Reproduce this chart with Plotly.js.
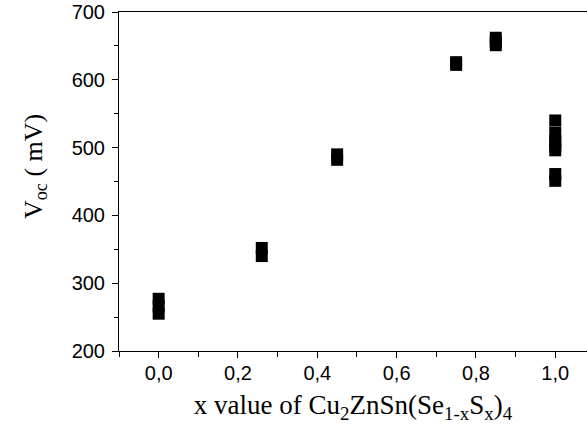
<!DOCTYPE html>
<html>
<head>
<meta charset="utf-8">
<script src="https://cdn.plot.ly/plotly-3.0.1.min.js"></script>
<style>html,body{margin:0;padding:0;background:#fff;}#chart{width:587px;height:436px;}</style>
</head>
<body>
<div id="chart"></div>
<script>
// Data
const xValues = [0, 0, 0, 0.26, 0.26, 0.45, 0.45, 0.75, 0.75, 0.85, 0.85, 0.85, 1.0, 1.0, 1.0, 1.0, 1.0, 1.0, 1.0];
const vocValues = [277, 266, 255, 352, 340, 490, 482, 626, 622, 662, 656, 651, 540, 522, 510, 496, 461, 451, 503];
const xTickVals = [0, 0.2, 0.4, 0.6, 0.8, 1.0];
const xTickText = ['0,0', '0,2', '0,4', '0,6', '0,8', '1,0'];
const yTickVals = [200, 300, 400, 500, 600, 700];
const yTickText = ['200', '300', '400', '500', '600', '700'];
const xTitle = 'x value of Cu<sub>2</sub>ZnSn(Se<sub>1-x</sub>S<sub>x</sub>)<sub>4</sub>';
const yTitle = 'V<sub>oc</sub> ( mV)';

const trace = {
  x: xValues,
  y: vocValues,
  type: 'scatter',
  mode: 'markers',
  marker: {symbol: 'square', size: 12, color: '#000', line: {width: 0}},
  hoverinfo: 'skip'
};

const tickFont = {family: 'Liberation Sans, Arial, sans-serif', size: 20, color: '#000'};
const titleFont = {family: 'Liberation Serif, Times New Roman, serif', size: 26, color: '#000'};
const layout = {
  width: 587, height: 436,
  margin: {l: 119, r: 0, t: 12, b: 85, pad: 0},
  paper_bgcolor: '#fff', plot_bgcolor: '#fff',
  showlegend: false,
  xaxis: {
    range: [-0.1, 1.08],
    tickvals: xTickVals, ticktext: xTickText,
    ticks: 'outside', ticklen: 6, tickwidth: 1, tickcolor: '#000',
    minor: {dtick: 0.1, tick0: 0.1, ticks: 'outside', ticklen: 5, tickwidth: 1, tickcolor: '#000', showgrid: false},
    showline: true, linecolor: '#000', linewidth: 1, mirror: true,
    showgrid: false, zeroline: false,
    tickfont: tickFont,
    ticklabelstandoff: -2,
    title: {text: xTitle, font: {family: titleFont.family, size: 27, color: '#000'}, standoff: 12}
  },
  yaxis: {
    range: [200, 700],
    tickvals: yTickVals, ticktext: yTickText,
    ticks: 'outside', ticklen: 6, tickwidth: 1, tickcolor: '#000',
    minor: {dtick: 50, tick0: 250, ticks: 'outside', ticklen: 4, tickwidth: 1, tickcolor: '#000', showgrid: false},
    showline: true, linecolor: '#000', linewidth: 1, mirror: false,
    showgrid: false, zeroline: false,
    tickfont: tickFont,
    ticklabelstandoff: 3
  },
  annotations: [{
    text: yTitle, textangle: -90,
    xref: 'paper', yref: 'paper',
    x: (35 - 119) / 468, y: (351 - 167) / 339,
    xanchor: 'center', yanchor: 'middle',
    showarrow: false, font: titleFont
  }]
};

Plotly.newPlot('chart', [trace], layout, {displayModeBar: false, staticPlot: true});
</script>
</body>
</html>
